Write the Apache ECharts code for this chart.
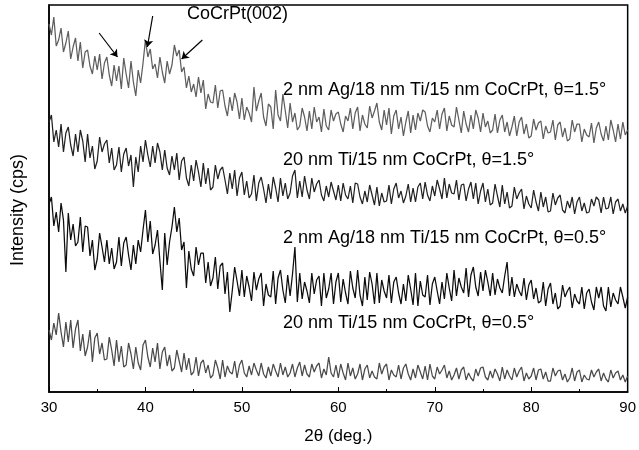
<!DOCTYPE html>
<html>
<head>
<meta charset="utf-8">
<script src="https://cdn.jsdelivr.net/npm/echarts@6/dist/echarts.min.js"></script>
<style>
  html, body { margin: 0; padding: 0; background: #fff; }
  #chart { width: 639px; height: 450px; }
</style>
</head>
<body>
<div id="chart"></div>
<script>
// 2theta sampling: 30..90 deg, 0.25 deg steps
const startAngle = 30
const stepAngle = 0.25

// intensities (arb. offsets), top to bottom
const agTheta15 = [
  368,357,375,346, 352,364,340,349, 361,333,345,354, 331,350,324,340, 342,326,318,336,
  322,338,313,329, 335,317,306,327, 311,326,303,334, 318,304,331,310, 296,322,309,329,
  352,335,343,323, 328,314,335,320, 309,331,318,327, 347,336,342,320, 325,304,316,300,
  308,295,315,299, 312,283,298,290, 289,307,284,301, 302,286,276,295, 281,299,290,273,
  294,272,285,279, 270,305,281,291, 299,275,266,288, 285,263,302,277, 271,298,281,264,
  289,270,279,262, 266,284,275,261, 281,263,285,270, 275,260,283,266, 262,282,271,278,
  280,268,260,276, 271,284,263,279, 285,261,277,268, 264,286,274,281, 289,270,262,282,
  267,284,258,276, 282,263,275,256, 270,281,259,277, 262,279,271,282, 280,266,260,274,
  270,282,263,278, 284,261,276,267, 265,285,272,259, 281,268,260,277, 263,282,274,260,
  279,265,271,259, 262,278,259,272, 277,260,270,256, 265,276,256,270, 275,258,268,254,
  256,273,262,269, 271,253,266,259, 260,272,252,267, 270,255,264,251, 253,272,260,268,
  268,250,263,257, 255,269,249,264, 270,258,251,266, 252,272,262,250, 268,253,270,257,
  262
]
const tiTheta15 = [
  270,277,250,262, 245,268,240,259, 265,247,236,258, 240,262,251,230, 258,234,246,223,
  231,255,240,248, 252,229,244,222, 227,245,220,238, 244,226,237,205, 235,220,246,230,
  252,237,225,246, 229,249,240,222, 242,224,217,236, 222,239,212,231, 235,214,206,227,
  211,232,220,205, 229,208,224,202, 205,227,213,222, 225,212,198,219, 203,222,196,214,
  220,197,211,194, 198,217,191,209, 215,203,189,208, 193,215,204,190, 214,196,209,193,
  199,216,222,194, 211,195,216,202, 193,214,200,208, 212,197,191,206, 195,210,201,192,
  207,191,209,197, 193,206,189,209, 208,195,188,201, 190,207,197,187, 205,186,199,190,
  191,207,188,203, 209,194,201,189, 196,208,190,204, 190,205,209,193, 210,197,191,206,
  196,212,203,193, 214,194,208,199, 198,212,192,207, 208,191,203,210, 193,209,188,201,
  209,190,203,187, 189,208,196,185, 207,188,200,184, 186,205,193,199, 203,183,196,188,
  184,202,190,181, 200,185,195,180, 181,199,187,194, 197,182,179,191, 184,195,178,190,
  195,181,189,179, 180,193,186,195, 192,179,195,183, 184,195,178,190, 193,181,188,179,
  186
]
const agTheta05 = [
  188,195,166,180, 160,189,172,120, 179,152,168,146, 150,175,140,166, 165,136,152,122,
  133,159,145,130, 152,128,144,123, 130,155,126,149, 155,137,122,147, 128,152,140,162,
  182,150,171,138, 147,162,131,102, 159,127,150,165, 185,160,174,142, 150,104,141,123,
  116,145,127,139, 139,109,130,106, 114,135,103,126, 129,98,120,80, 101,125,111,96,
  122,95,116,105, 91,120,102,113, 119,86,108,97, 95,121,88,114, 122,102,89,117,
  96,118,145,90, 119,93,110,101, 89,119,98,112, 116,86,119,94, 103,119,88,110,
  119,90,113,99, 88,121,104,94, 122,97,86,115, 92,120,108,88, 119,89,112,101,
  94,117,89,110, 115,99,88,108, 91,117,103,87, 119,86,111,97, 95,117,87,108,
  115,101,88,110, 93,119,104,91, 122,96,114,105, 99,124,95,117, 125,105,96,120,
  101,122,110,96, 119,97,113,104, 99,116,130,96, 115,95,108,101, 96,114,92,107,
  112,93,104,89, 91,110,86,103, 109,88,99,83, 86,107,95,101, 105,84,98,91,
  88,105,83,99, 103,90,82,105, 94,105,86,81, 105,85,99,92, 88,105,95,84,
  95
]
const tiTheta05 = [
  62,52,69,57, 79,60,45,70, 50,72,44,63, 72,41,58,36, 45,62,30,54,
  59,38,49,32, 33,55,42,26, 52,30,46,25, 27,49,38,23, 45,29,22,47,
  52,35,25,44, 30,49,23,40, 45,26,37,21, 24,42,31,20, 39,22,34,17,
  20,35,16,29, 32,19,27,14, 17,32,24,13, 32,15,26,20, 18,31,14,27,
  32,19,15,26, 17,29,22,16, 29,18,14,25, 16,28,21,15, 29,17,25,15,
  19,28,15,24, 30,16,27,18, 15,28,20,26, 29,14,23,17, 35,19,15,27,
  14,28,19,12, 29,16,24,13, 18,28,12,23, 27,14,21,15, 13,29,18,25,
  28,12,22,17, 15,27,13,24, 28,18,12,23, 14,27,20,13, 26,12,28,16,
  13,25,18,22, 27,14,21,12, 17,24,13,22, 25,12,19,14, 11,23,16,24,
  25,15,12,21, 14,23,18,11, 25,13,22,16, 12,24,15,21, 25,11,19,13,
  16,24,12,22, 23,13,20,11, 11,24,16,21, 22,12,18,10, 14,24,11,20,
  22,10,17,13, 12,22,15,20, 23,11,19,13, 10,22,14,19, 21,12,17,10,
  16
]

const curveLabels = [
  '2 nm Ag/18 nm Ti/15 nm CoCrPt, \u03b8=1.5\u00b0',
  '20 nm Ti/15 nm CoCrPt, \u03b8=1.5\u00b0',
  '2 nm Ag/18 nm Ti/15 nm CoCrPt, \u03b8=0.5\u00b0',
  '20 nm Ti/15 nm CoCrPt, \u03b8=0.5\u00b0'
]
const curveColors = ['#5e5e5e', '#222222', '#0d0d0d', '#4a4a4a']

// arrows: [from x, from y, to x, to y] in data units
const arrows = [
  [35.2, 359, 37.1, 335],
  [40.75, 376, 40.2, 345],
  [45.9, 352, 43.75, 333]
]

function pairs(vals) {
  return vals.map((v, i) => [startAngle + i * stepAngle, v])
}

const chart = echarts.init(document.getElementById('chart'))
const FONT = '"Liberation Sans", Arial, sans-serif'

const series = [agTheta15, tiTheta15, agTheta05, tiTheta05].map((vals, k) => ({
  name: curveLabels[k],
  type: 'line',
  data: pairs(vals),
  showSymbol: false,
  silent: true,
  lineStyle: { width: 1.25, color: curveColors[k] },
  z: 2
}))

series[0].markLine = {
  silent: true,
  symbol: ['none', 'arrow'],
  symbolSize: 7,
  label: { show: false },
  lineStyle: { color: '#000', width: 1.2, type: 'solid' },
  data: arrows.map(a => [{ coord: [a[0], a[1]] }, { coord: [a[2], a[3]] }])
}

const textItems = [
  ['CoCrPt(002)', 187, 14],
  [curveLabels[0], 283, 90],
  [curveLabels[1], 283, 160],
  [curveLabels[2], 283, 238],
  [curveLabels[3], 283, 323]
]

const graphics = textItems.map(t => ({
  type: 'text', x: t[1], y: t[2], z: 10,
  style: { text: t[0], font: '18px ' + FONT, fill: '#000', verticalAlign: 'middle' }
}))
graphics.push({
  type: 'text', x: 18, y: 210, rotation: Math.PI / 2, z: 10,
  style: { text: 'Intensity (cps)', font: '18px ' + FONT, fill: '#000', align: 'center', verticalAlign: 'middle' }
})

chart.setOption({
  animation: false,
  backgroundColor: '#fff',
  grid: { left: 49, right: 9, top: 5, bottom: 58, show: true, borderColor: '#000', borderWidth: 1.5 },
  xAxis: {
    type: 'value', min: 30, max: 90, interval: 10,
    name: '2\u03b8 (deg.)', nameLocation: 'middle', nameGap: 36,
    nameTextStyle: { fontFamily: FONT, fontSize: 17, color: '#000' },
    axisLine: { lineStyle: { color: '#000', width: 1.5 } },
    axisTick: { inside: true, length: 5, lineStyle: { color: '#000' } },
    minorTick: { show: true, splitNumber: 2, length: 3, lineStyle: { color: '#000' } },
    axisLabel: { fontFamily: FONT, fontSize: 15, color: '#000', margin: 8 },
    splitLine: { show: false }
  },
  yAxis: {
    type: 'value', min: 0, max: 387,
    axisLine: { lineStyle: { color: '#000', width: 1.5 } },
    axisTick: { show: false },
    axisLabel: { show: false },
    splitLine: { show: false }
  },
  graphic: graphics,
  series
})
</script>
</body>
</html>
